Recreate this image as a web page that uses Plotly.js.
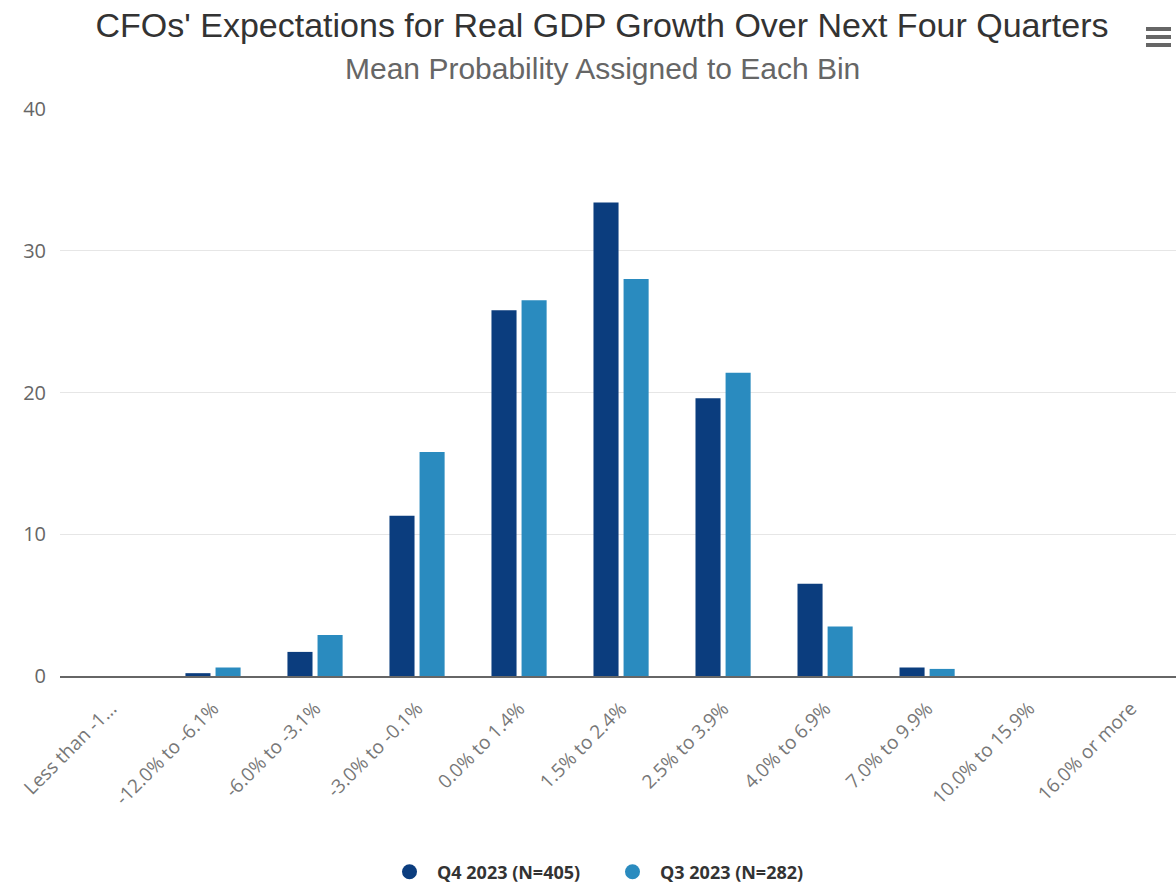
<!DOCTYPE html>
<html>
<head>
<meta charset="utf-8">
<script src="https://cdn.plot.ly/plotly-3.0.1.min.js"></script>
<style>html,body{margin:0;padding:0;background:#fff;}#chart{width:1176px;height:884px;}</style>
</head>
<body>
<div id="chart"></div>
<script>
const categories = ["Less than -1...", "-12.0% to -6.1%", "-6.0% to -3.1%", "-3.0% to -0.1%", "0.0% to 1.4%", "1.5% to 2.4%", "2.5% to 3.9%", "4.0% to 6.9%", "7.0% to 9.9%", "10.0% to 15.9%", "16.0% or more"];
const q4_2023 = [0, 0.2, 1.7, 11.3, 25.8, 33.4, 19.6, 6.5, 0.6, 0, 0];
const q3_2023 = [0, 0.6, 2.9, 15.8, 26.5, 28.0, 21.4, 3.5, 0.5, 0, 0];
const seriesNames = ["Q4 2023 (N=405)", "Q3 2023 (N=282)"];
const seriesColors = ["#0b3d7e", "#2a8bbf"];
const yTicks = [0, 10, 20, 30, 40];

const W = 1176, H = 884, L = 60, T = 109, B = 208;
const PW = W - L, PH = H - T - B;
const px = x => (x - L) / PW;
const py = y => (H - B - y) / PH;

const traces = [
  {type:'bar', x:categories, y:q4_2023, name:seriesNames[0], marker:{color:seriesColors[0]}, showlegend:false, hoverinfo:'y'},
  {type:'bar', x:categories, y:q3_2023, name:seriesNames[1], marker:{color:seriesColors[1]}, showlegend:false, hoverinfo:'y'},
  {type:'scatter', mode:'markers', x:[categories[0]], y:[null], name:seriesNames[0], marker:{color:seriesColors[0], size:15, symbol:'circle'}, showlegend:true, hoverinfo:'skip'},
  {type:'scatter', mode:'markers', x:[categories[0]], y:[null], name:seriesNames[1], marker:{color:seriesColors[1], size:15, symbol:'circle'}, showlegend:true, hoverinfo:'skip'}
];

const menuShapes = [29, 37, 45].map(yy => ({type:'line', xref:'paper', yref:'paper',
  x0:px(1146), x1:px(1171), y0:py(yy), y1:py(yy), line:{color:'#666', width:4}}));

const layout = {
  width:W, height:H,
  margin:{l:L, r:0, t:T, b:B, autoexpand:false},
  paper_bgcolor:'#fff', plot_bgcolor:'#fff',
  barmode:'group', bargap:0.41, bargroupgap:0.167,
  title:{text:"CFOs' Expectations for Real GDP Growth Over Next Four Quarters",
    font:{family:'Liberation Sans, Arial, sans-serif', size:34, color:'#333'},
    xref:'container', x:602/W, xanchor:'center', yref:'container', y:1-25/H, yanchor:'middle'},
  annotations:[
    {text:'Mean Probability Assigned to Each Bin', xref:'paper', yref:'paper', x:px(602), y:py(68),
     xanchor:'center', yanchor:'middle', showarrow:false, font:{family:'Liberation Sans, Arial, sans-serif', size:30, color:'#666'}}
  ],
  shapes: menuShapes,
  xaxis:{type:'category', range:[-0.5, 10.44], autorange:false, automargin:false, showline:true, linecolor:'#666', linewidth:2, ticks:'', tickangle:-45,
    ticklabelstandoff:12,
    tickfont:{family:'Open Sans, sans-serif', size:19, color:'#777'}, showgrid:false, zeroline:false, fixedrange:true},
  yaxis:{range:[0,40], automargin:false, tickvals:yTicks, ticktext:yTicks.map(String), showgrid:true, gridcolor:'#e6e6e6', gridwidth:1,
    zeroline:false, showline:false, ticks:'', ticklabelstandoff:13,
    tickfont:{family:'Open Sans, sans-serif', size:20, color:'#666'}, fixedrange:true},
  legend:{orientation:'h', x:px(605), xanchor:'center', xref:'paper', yref:'container', y:1-872/H, yanchor:'middle',
    font:{family:'Open Sans, sans-serif', size:18, color:'#333', weight:'bold'}, itemwidth:45, entrywidth:163, entrywidthmode:'pixels'},
  showlegend:true
};
Plotly.newPlot('chart', traces, layout, {displayModeBar:false, responsive:false});
</script>
</body>
</html>
